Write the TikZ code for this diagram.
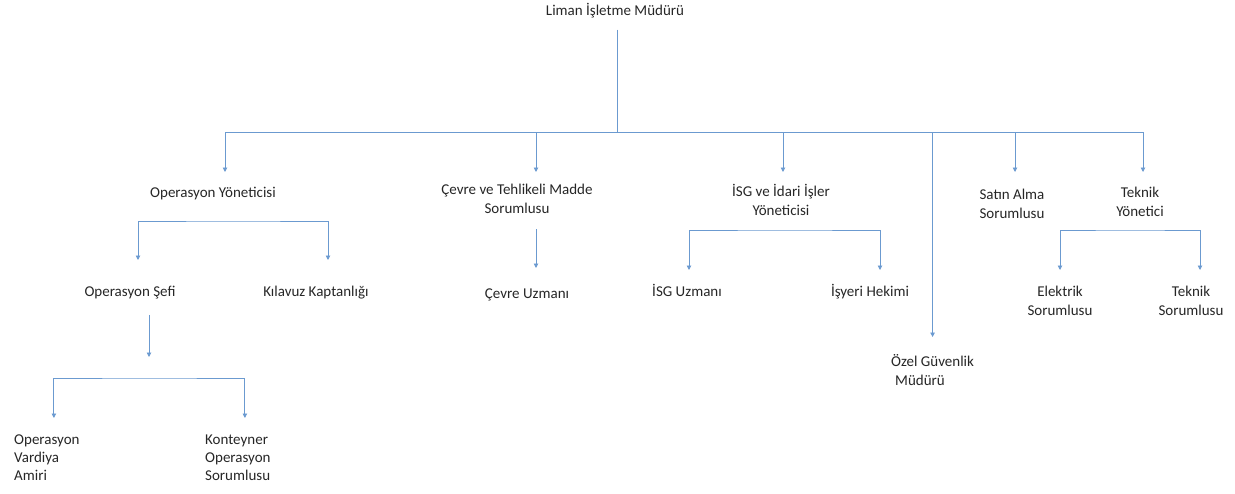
\documentclass[tikz,border=0pt]{standalone}
\usepackage{fontspec}
\setmainfont{Carlito}
\usetikzlibrary{arrows.meta}
\definecolor{lnblue}{HTML}{6B9AD0}
\begin{document}
\begin{tikzpicture}[x=1pt,y=-1pt,
  lbl/.style={inner sep=0pt, font=\fontsize{15}{19}\selectfont, text=black!85},
  lbltight/.style={lbl, font=\fontsize{15}{18}\selectfont},
  conn/.style={draw=lnblue, line width=0.9pt},
  arr/.style={conn, -{Triangle[length=4.5pt,width=4.5pt]}},
  barr/.style={conn, {Triangle[length=4.5pt,width=4.5pt]}-{Triangle[length=4.5pt,width=4.5pt]}},
]
\useasboundingbox (0,0) rectangle (1235,493);

% root
\node[lbl, anchor=north] (root) at (615,3.5) {Liman İşletme Müdürü};
\coordinate (hub) at (617,132);
\draw[conn, shorten <=11pt] (root.south -| hub) -- (hub);

% level 1
\node[lbl, anchor=north] (opy) at (213,186.5) {Operasyon Yöneticisi};
\node[lbl, anchor=north, align=center] (cev) at (517,183.5) {Çevre ve Tehlikeli Madde\\Sorumlusu};
\node[lbl, anchor=north, align=center] (isg) at (781,184.5) {İSG ve İdari İşler\\Yöneticisi};
\node[lbl, anchor=north west, align=left] (ozel) at (891,354.5) {Özel Güvenlik\\\hspace*{4pt}Müdürü};
\node[lbl, anchor=north, align=center] (sat) at (1012,188.5) {Satın Alma\\Sorumlusu};
\node[lbl, anchor=north, align=center] (tek) at (1140,186.5) {Teknik\\Yönetici};

\draw[conn] ([xshift=12pt]opy.north |- hub) -- ([xshift=3pt]tek.north |- hub);
\draw[arr, shorten >=14.5pt] ([xshift=12pt]opy.north |- hub) -- ([xshift=12pt]opy.north);
\draw[arr, shorten >=11.5pt] ([xshift=19pt]cev.north |- hub) -- ([xshift=19pt]cev.north);
\draw[arr, shorten >=12.5pt] ([xshift=2pt]isg.north |- hub) -- ([xshift=2pt]isg.north);
\draw[arr, shorten >=17.5pt] (ozel.north |- hub) -- (ozel.north);
\draw[arr, shorten >=16.5pt] ([xshift=3pt]sat.north |- hub) -- ([xshift=3pt]sat.north);
\draw[arr, shorten >=14.5pt] ([xshift=3pt]tek.north |- hub) -- ([xshift=3pt]tek.north);

% level 2 - operasyon
\node[lbl, anchor=north] (opsef) at (130,285.5) {Operasyon Şefi};
\node[lbl, anchor=north] (kil) at (316,285.5) {Kılavuz Kaptanlığı};
\coordinate (obus) at (233,221);
\draw[barr, shorten <=25.5pt, shorten >=25.5pt] ([xshift=8pt]opsef.north) |- (obus) -| ([xshift=12pt]kil.north);

% level 2 - cevre
\node[lbl, anchor=north] (cevu) at (527,288.5) {Çevre Uzmanı};
\draw[arr, shorten <=16pt, shorten >=20.5pt] ([xshift=19pt]cev.south) -- ([xshift=9pt]cevu.north);

% level 2 - ISG
\node[lbl, anchor=north] (isgu) at (687,284) {İSG Uzmanı};
\node[lbl, anchor=north] (hek) at (870,284) {İşyeri Hekimi};
\coordinate (ibus) at (785,230);
\draw[barr, shorten <=14pt, shorten >=14pt] ([xshift=2pt]isgu.north) |- (ibus) -| ([xshift=10pt]hek.north);

% level 2 - teknik
\node[lbl, anchor=north, align=center] (elk) at (1060,285.5) {Elektrik\\Sorumlusu};
\node[lbl, anchor=north, align=center] (teks) at (1191,285.5) {Teknik\\Sorumlusu};
\coordinate (tbus) at (1130,230);
\draw[barr, shorten <=15.5pt, shorten >=15.5pt] (elk.north) |- (tbus) -| ([xshift=9pt]teks.north);

% level 3
\coordinate (osTip) at (149,357);
\draw[arr, shorten <=16pt] (opsef.south -| osTip) -- (osTip);
\node[lbltight, anchor=north west, align=left] (ova) at (14,434.5) {Operasyon\\Vardiya\\Amiri};
\node[lbltight, anchor=north west, align=left] (kon) at (205,434.5) {Konteyner\\Operasyon\\Sorumlusu};
\coordinate (sbus) at (150,378);
\draw[barr, shorten <=16.5pt, shorten >=16.5pt] ([xshift=7pt]ova.north) |- (sbus) -| ([xshift=7pt]kon.north);
\end{tikzpicture}
\end{document}
